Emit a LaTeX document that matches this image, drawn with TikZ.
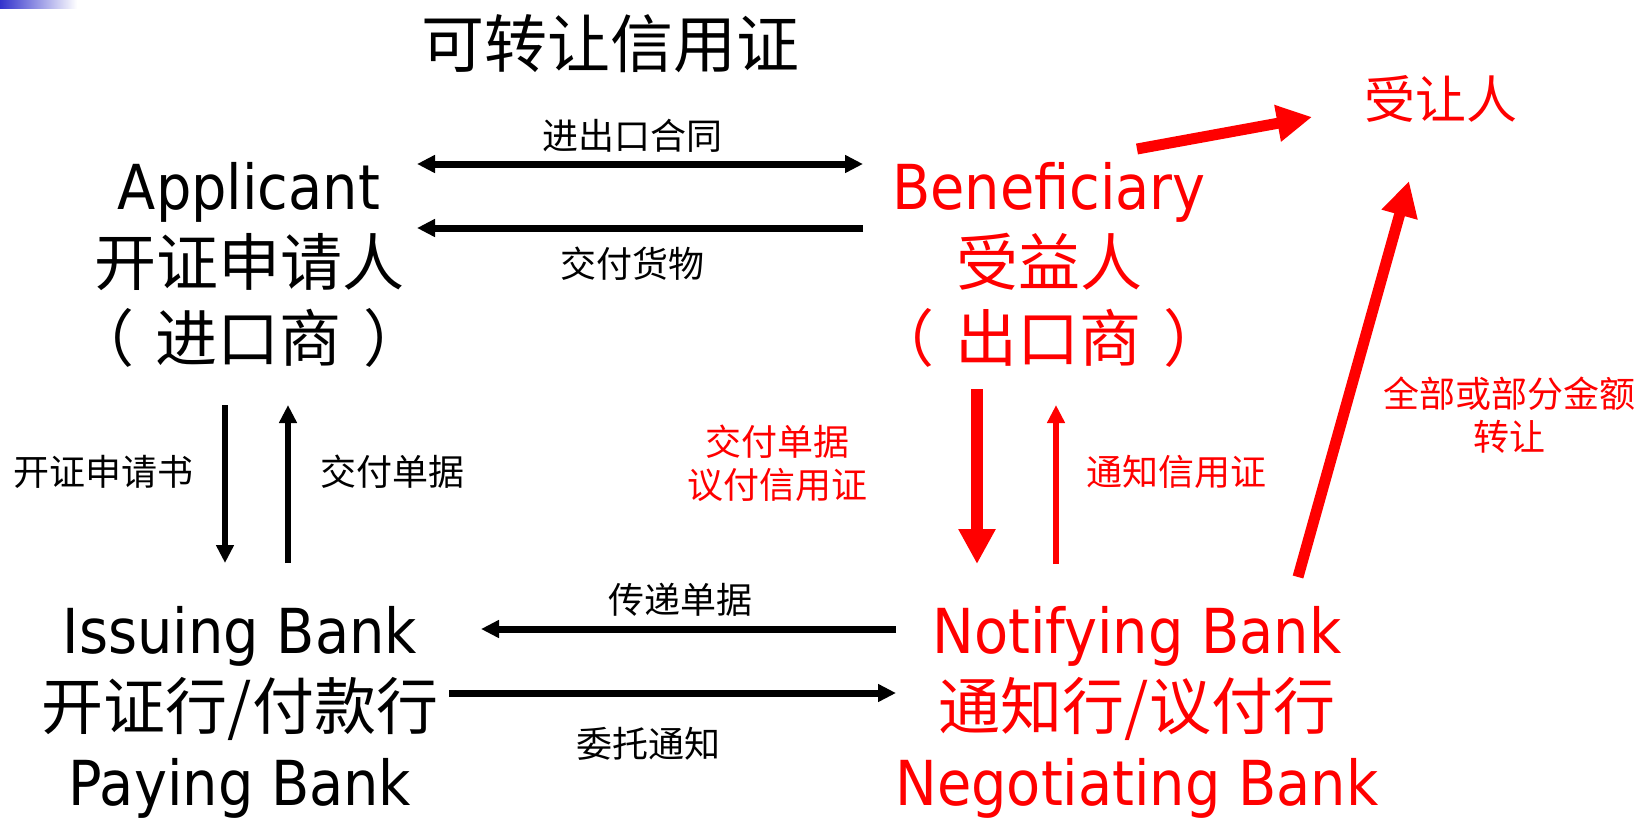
\documentclass[tikz,border=0pt]{standalone}
\usepackage{fontspec}
\setmainfont{Noto Sans CJK SC}
\newfontfamily\lat[FakeStretch=0.9]{DejaVu Sans}
\usetikzlibrary{arrows.meta}
\definecolor{slideblue}{RGB}{51,51,204}
\newcommand\inparen[1]{（\kern22pt #1\kern22pt）}
\tikzset{
  party/.style={font=\fontsize{62}{76}\selectfont, align=center, inner sep=0pt, anchor=base},
  note/.style={font=\fontsize{36}{43}\selectfont, align=center, inner sep=0pt},
  flow/.style={line width=7pt, -{Triangle[length=18pt,width=17pt]}},
  thinflow/.style={line width=6pt, -{Triangle[length=18pt,width=17pt]}},
  bigflow/.style={red, line width=11pt, -{Triangle[length=35pt,width=35pt]}}
}
\begin{document}
\begin{tikzpicture}[x=1pt,y=-1pt]
\useasboundingbox (0,0) rectangle (1646,820);
\shade[left color=slideblue, right color=white] (0,0) rectangle (77,8);
\node[font=\fontsize{63}{70}\selectfont, inner sep=0pt] (title) at (610,44) {可转让信用证};
% parties (base = last line)
\node[party] (app) at (249,361) {{\lat Applicant}\\开证申请人\\\inparen{进口商}};
\node[party, red] (ben) at (1049,361) {{\lat Beneficiary}\\受益人\\\inparen{出口商}};
\node[party] (iss) at (240,805) {{\lat Issuing Bank}\\开证行/付款行\\{\lat Paying Bank}};
\node[party, red] (neg) at (1137,805) {{\lat Notifying Bank}\\通知行/议付行\\{\lat Negotiating Bank}};
\node[font=\fontsize{51}{60}\selectfont, inner sep=0pt, red] (tr) at (1441,99) {受让人};
% arrow ends
\coordinate (c1) at (417,164); \coordinate (c2) at (863,164);
\coordinate (g1) at (863,228); \coordinate (g2) at (417,228);
\coordinate (ad1) at (225,405); \coordinate (ad2) at (225,563);
\coordinate (au1) at (288,563); \coordinate (au2) at (288,405);
\coordinate (bd1) at (977,389); \coordinate (bd2) at (977,564);
\coordinate (bu1) at (1056,564); \coordinate (bu2) at (1056,405);
\coordinate (d1) at (896,629); \coordinate (d2) at (481,629);
\coordinate (n1) at (449,693); \coordinate (n2) at (896,693);
\coordinate (t1) at (1137,149); \coordinate (t2) at (1312,117);
\coordinate (p1) at (1298,577); \coordinate (p2) at (1409,181);
% black flows
\draw[flow, {Triangle[length=18pt,width=17pt]}-{Triangle[length=18pt,width=17pt]}] (c1) -- (c2);
\draw[flow] (g1) -- (g2);
\draw[thinflow] (ad1) -- (ad2);
\draw[thinflow] (au1) -- (au2);
\draw[flow] (d1) -- (d2);
\draw[flow] (n1) -- (n2);
% red flows
\draw[red, line width=12pt, -{Triangle[length=35pt,width=35pt]}] (bd1) -- (bd2);
\draw[red, thinflow] (bu1) -- (bu2);
\draw[bigflow] (t1) -- (t2);
\draw[bigflow] (p1) -- (p2);
% labels
\node[note] (contract) at (632,136) {进出口合同};
\node[note] (goods) at (632,264) {交付货物};
\node[note] (apply) at (103,472) {开证申请书};
\node[note] (docsup) at (392,472) {交付单据};
\node[note, red] (nego) at (777,463) {交付单据\\议付信用证};
\node[note, red] (advise) at (1176,472) {通知信用证};
\node[note, red] (part) at (1509,415) {全部或部分金额\\转让};
\node[note] (pass) at (680,600) {传递单据};
\node[note] (entrust) at (648,744) {委托通知};
\end{tikzpicture}
\end{document}
